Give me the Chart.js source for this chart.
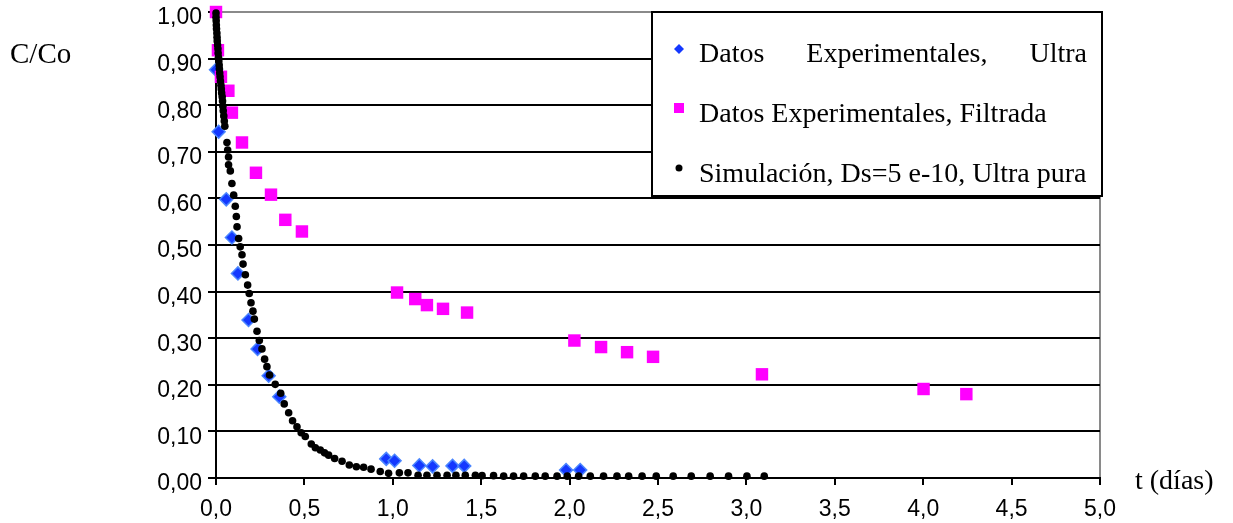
<!DOCTYPE html>
<html>
<head>
<meta charset="utf-8">
<script src="https://cdn.jsdelivr.net/npm/chart.js@4.4.1/dist/chart.umd.min.js"></script>
<style>
  html, body { margin: 0; padding: 0; background: #fff; }
  #wrap { width: 1233px; height: 523px; }
</style>
</head>
<body>
<div id="wrap"><canvas id="chart" width="1233" height="523"></canvas></div>
<script>
// Datos Experimentales, Ultra (t en días, C/Co)
const ultraT = [0.00, 0.015, 0.058, 0.09, 0.124, 0.184, 0.235, 0.298, 0.358, 0.963, 1.01, 1.15, 1.225, 1.338, 1.404, 1.98, 2.06];
const ultraC = [0.876, 0.743, 0.598, 0.516, 0.439, 0.339, 0.277, 0.2195, 0.1745, 0.041, 0.037, 0.027, 0.025, 0.026, 0.026, 0.017, 0.017];

// Datos Experimentales, Filtrada
const filtT = [0.00, 0.011, 0.028, 0.07, 0.09, 0.147, 0.226, 0.311, 0.392, 0.486, 1.024, 1.127, 1.193, 1.284, 1.420,
  2.027, 2.178, 2.325, 2.472, 3.088, 4.002, 4.244];
const filtC = [1.00, 0.918, 0.861, 0.831, 0.784, 0.720, 0.655, 0.608, 0.554, 0.529, 0.398, 0.384, 0.371, 0.363, 0.355,
  0.295, 0.281, 0.270, 0.260, 0.2225, 0.191, 0.180];

// Simulación, Ds=5 e-10, Ultra pura
const simT = [0.000, 0.000, 0.001, 0.002, 0.003, 0.005, 0.006, 0.007, 0.009, 0.011, 0.012, 0.014, 0.016, 0.018,
  0.019, 0.021, 0.023, 0.025, 0.028, 0.030, 0.032, 0.035, 0.037, 0.039, 0.041, 0.044, 0.047, 0.050,
  0.062, 0.066, 0.071, 0.071, 0.081, 0.090, 0.100, 0.109, 0.115, 0.119,
  0.128, 0.137, 0.147, 0.153, 0.166, 0.179, 0.188, 0.198, 0.209, 0.217,
  0.232, 0.245, 0.260, 0.275, 0.288, 0.303, 0.335, 0.366, 0.386, 0.411,
  0.433, 0.458, 0.482, 0.505, 0.539, 0.562, 0.590, 0.614, 0.637, 0.671,
  0.713, 0.754, 0.794, 0.835, 0.877, 0.929, 0.976, 1.037, 1.086, 1.143,
  1.193, 1.250, 1.307, 1.357, 1.410, 1.467,
  1.505, 1.570, 1.627, 1.683, 1.740, 1.806, 1.862, 1.929, 1.987, 2.051,
  2.117, 2.192, 2.268, 2.334, 2.410, 2.490, 2.586, 2.688, 2.795, 2.899, 3.003, 3.101];
const simC = [0.998, 0.989, 0.981, 0.972, 0.964, 0.955, 0.946, 0.938, 0.929, 0.921, 0.912, 0.903, 0.895, 0.886,
  0.878, 0.869, 0.861, 0.852, 0.843, 0.835, 0.826, 0.818, 0.809, 0.798, 0.788, 0.777, 0.766, 0.755,
  0.720, 0.704, 0.689, 0.672, 0.659, 0.632, 0.607, 0.583, 0.561, 0.539,
  0.514, 0.496, 0.479, 0.459, 0.436, 0.414, 0.396, 0.376, 0.358, 0.341,
  0.315, 0.295, 0.277, 0.255, 0.239, 0.221, 0.201, 0.182, 0.159, 0.140,
  0.123, 0.110, 0.097, 0.089, 0.073, 0.065, 0.060, 0.054, 0.049, 0.042,
  0.036, 0.028, 0.024, 0.023, 0.019, 0.014, 0.010, 0.011, 0.011, 0.006,
  0.006, 0.006, 0.006, 0.006, 0.006, 0.006,
  0.005, 0.005, 0.004, 0.004, 0.004, 0.004, 0.004, 0.004, 0.004, 0.004,
  0.004, 0.004, 0.004, 0.004, 0.004, 0.004, 0.004, 0.004, 0.004, 0.004, 0.004, 0.004];

const legendLabels = [
  'Datos Experimentales, Ultra',
  'Datos Experimentales, Filtrada',
  'Simulación, Ds=5 e-10, Ultra pura',
];
const yTitle = 'C/Co';
const xTitle = 't (días)';

const SANS = '"Liberation Sans", Arial, sans-serif';
const SERIF = '"Liberation Serif", "Times New Roman", serif';
const GREY = '#8a8a8a';

const toPoints = (xs, ys) => xs.map((x, i) => ({ x, y: ys[i] }));

// Legend box, drawn over the plot, plus the two plain-text axis titles
const boxLegend = {
  id: 'boxLegend',
  afterDraw(chart) {
    const { ctx, chartArea } = chart;
    const bx = chartArea.right - 448, by = chartArea.top, bw = 450, bh = 184;
    ctx.save();
    ctx.fillStyle = '#fff';
    ctx.fillRect(bx, by, bw, bh);
    ctx.strokeStyle = '#000';
    ctx.lineWidth = 2;
    ctx.strokeRect(bx, by, bw, bh);

    ctx.font = '28px ' + SERIF;
    ctx.fillStyle = '#000';
    ctx.textBaseline = 'alphabetic';
    const tx = bx + 47, mx = bx + 27;
    const rows = [by + 50, by + 110, by + 170];

    // row 1 is justified to the box width
    const words = legendLabels[0].split(' ');
    const target = 388;
    const wsum = words.reduce((s, w) => s + ctx.measureText(w).width, 0);
    const gap = (target - wsum) / (words.length - 1);
    let cx = tx;
    words.forEach((w) => { ctx.fillText(w, cx, rows[0]); cx += ctx.measureText(w).width + gap; });
    ctx.fillText(legendLabels[1], tx, rows[1]);
    ctx.fillText(legendLabels[2], tx, rows[2]);

    // markers
    const d = chart.data.datasets;
    let y = rows[0] - 13;
    ctx.fillStyle = d[0].backgroundColor;
    ctx.beginPath();
    ctx.moveTo(mx, y - 5); ctx.lineTo(mx + 5, y); ctx.lineTo(mx, y + 5); ctx.lineTo(mx - 5, y); ctx.closePath();
    ctx.fill();
    y = rows[1] - 14;
    ctx.fillStyle = d[1].backgroundColor;
    ctx.fillRect(mx - 5, y - 5, 10, 10);
    y = rows[2] - 14;
    ctx.fillStyle = d[2].backgroundColor;
    ctx.beginPath();
    ctx.arc(mx, y, 3.5, 0, Math.PI * 2);
    ctx.fill();

    // axis titles
    ctx.fillStyle = '#000';
    ctx.font = '29px ' + SERIF;
    ctx.fillText(yTitle, 10, 63);
    ctx.font = '28px ' + SERIF;
    ctx.fillText(xTitle, chartArea.right + 35, chartArea.bottom + 11);
    ctx.restore();
  },
};

new Chart(document.getElementById('chart'), {
  type: 'scatter',
  data: {
    datasets: [
      {
        label: legendLabels[0],
        data: toPoints(ultraT, ultraC),
        pointStyle: 'rectRot',
        pointRadius: 6.5,
        backgroundColor: '#1438ff',
        borderColor: '#4a86ff',
        borderWidth: 1.5,
        order: 3,
        clip: false,
      },
      {
        label: legendLabels[1],
        data: toPoints(filtT, filtC),
        pointStyle: 'rect',
        pointRadius: 8.8,
        backgroundColor: '#ff00ff',
        borderColor: '#ff00ff',
        borderWidth: 0,
        order: 2,
        clip: false,
      },
      {
        label: legendLabels[2],
        data: toPoints(simT, simC),
        pointStyle: 'circle',
        pointRadius: 3.8,
        backgroundColor: '#000',
        borderColor: '#000',
        borderWidth: 0,
        order: 1,
        clip: false,
      },
    ],
  },
  options: {
    responsive: false,
    animation: false,
    layout: { padding: { top: 12, right: 133, left: 0, bottom: 0 } },
    plugins: {
      legend: { display: false },
      tooltip: { enabled: false },
    },
    scales: {
      x: {
        type: 'linear',
        min: 0,
        max: 5,
        afterFit(s) { s.height = 45; s.paddingLeft = 0; s.paddingRight = 0; },
        ticks: {
          stepSize: 0.5,
          autoSkip: false,
          maxRotation: 0,
          color: '#000',
          padding: 11,
          font: { family: SANS, size: 23 },
          callback(v) { return v.toFixed(1).replace('.', ','); },
        },
        grid: {
          color(c) { return c.tick && c.tick.value === 5 ? GREY : 'rgba(0,0,0,0)'; },
          tickColor: '#000',
          tickLength: 7,
          lineWidth: 2,
        },
        border: { color: '#000', width: 2 },
      },
      y: {
        min: 0,
        max: 1,
        afterFit(s) { s.width = 216; s.paddingTop = 0; s.paddingBottom = 0; },
        ticks: {
          stepSize: 0.1,
          autoSkip: false,
          color: '#000',
          padding: 6,
          labelOffset: 6,
          font: { family: SANS, size: 23 },
          callback(v) { return v.toFixed(2).replace('.', ','); },
        },
        grid: {
          color(c) { return c.tick && Math.abs(c.tick.value - 1) < 1e-6 ? GREY : '#000'; },
          tickColor: '#000',
          tickLength: 8,
          lineWidth: 2,
        },
        border: { color: '#000', width: 2 },
      },
    },
  },
  plugins: [boxLegend],
});
</script>
</body>
</html>
